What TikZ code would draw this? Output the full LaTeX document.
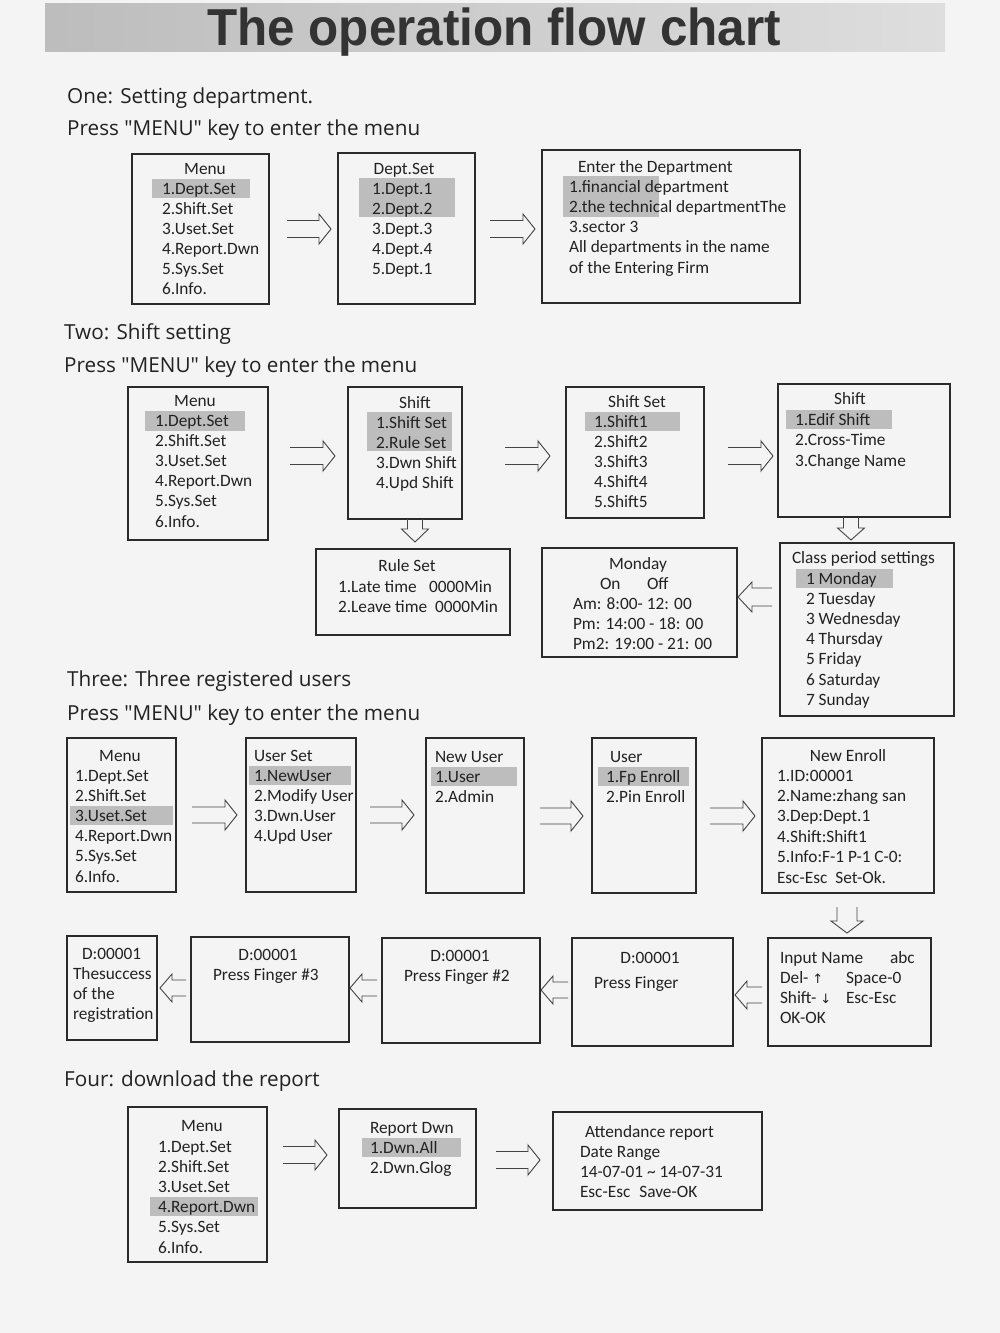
\documentclass[tikz,border=0pt]{standalone}
\usepackage{fontspec}
\setmainfont{Carlito}
\newfontfamily\headfont{Open Sans}
\newfontfamily\titlefont{Liberation Sans}
\newfontfamily\symfont{DejaVu Sans}
\usetikzlibrary{calc}
\definecolor{ink}{HTML}{222222}
\definecolor{hl}{HTML}{BDBDBD}
\definecolor{paper}{HTML}{F4F4F4}
\definecolor{frame}{HTML}{2A2A2A}
\definecolor{arrink}{HTML}{444444}
\definecolor{titleink}{HTML}{333333}
\tikzset{
  scr/.style={draw=frame, line width=1.3pt, inner sep=0pt, outer sep=0pt},
  txt/.style={anchor=base west, inner sep=0pt, outer sep=0pt, text=ink, font=\fontsize{17.3}{20}\selectfont},
  ctxt/.style={txt, anchor=base},
  head/.style={anchor=base west, inner sep=0pt, text=ink, font=\headfont\fontsize{20.7}{24}\selectfont},
  arrln/.style={draw=arrink, line width=0.9pt, line join=miter},
  hlbox/.style={fill=hl}
}
\newcommand\scr[5]{\node[scr, anchor=north west, minimum width={(#4-#2)*1pt}, minimum height={(#5-#3)*1pt}] (#1) at (#2,#3) {};}
\newcommand\lns[5]{\foreach \t [count=\i] in {#5} {\node[txt] (#1-\i) at (#2,{#3+(\i-1)*#4}) {\t};}}
\newcommand\sym[1]{{\symfont\fontsize{13}{15}\selectfont #1}}
% hollow double arrows: start, tip, half gap, head length, head half width
\newcommand\arrR[5]{\draw[arrln] ($(#1)+(0,-#3)$) -- ($(#2)+(-#4,-#3)$) -- ($(#2)+(-#4,-#5)$) -- (#2) -- ($(#2)+(-#4,#5)$) -- ($(#2)+(-#4,#3)$) -- ($(#1)+(0,#3)$);}
\newcommand\arrL[5]{\draw[arrln] ($(#1)+(0,-#3)$) -- ($(#2)+(#4,-#3)$) -- ($(#2)+(#4,-#5)$) -- (#2) -- ($(#2)+(#4,#5)$) -- ($(#2)+(#4,#3)$) -- ($(#1)+(0,#3)$);}
\newcommand\arrD[5]{\draw[arrln] ($(#1)+(-#3,0)$) -- ($(#2)+(-#3,-#4)$) -- ($(#2)+(-#5,-#4)$) -- (#2) -- ($(#2)+(#5,-#4)$) -- ($(#2)+(#3,-#4)$) -- ($(#1)+(#3,0)$);}
\begin{document}
\begin{tikzpicture}[x=1pt,y=-1pt]
\useasboundingbox (0,0) rectangle (1000,1333);
\fill[paper] (0,0) rectangle (1000,1333);
% title band
\fill[left color=black!26, right color=black!13] (45,3) rectangle (945,51);
\node[anchor=base, inner sep=0pt, text=titleink, font=\titlefont\bfseries\fontsize{52}{60}\selectfont] (title) at (494,45) {\scalebox{0.95}[1]{The operation flow chart}};

% ---------- One ----------
\node[head] (h1) at (67,103) {One: Setting department.};
\node[head] (h1b) at (67,135) {Press "MENU" key to enter the menu};
\fill[hlbox] (152,179) rectangle (250,198);
\fill[hlbox] (359,178) rectangle (455,217);
\fill[hlbox] (563,176) rectangle (659,217);
\scr{A1}{132}{154}{269}{304}
\scr{A2}{338}{153}{475}{304}
\scr{A3}{542}{150}{800}{303}
\node[ctxt] (A1t) at (205,174) {Menu};
\lns{A1l}{162}{194}{20}{1.Dept.Set,2.Shift.Set,3.Uset.Set,4.Report.Dwn,5.Sys.Set,6.Info.}
\node[ctxt] (A2t) at (404,174) {Dept.Set};
\lns{A2l}{372}{194}{20}{1.Dept.1,2.Dept.2,3.Dept.3,4.Dept.4,5.Dept.1}
\node[txt] (A3t) at (578,172) {Enter the Department};
\lns{A3l}{569}{192}{20.3}{1.financial department,2.the technical departmentThe,3.sector 3,All departments in the name,of the Entering Firm}
\path (A1.east |- 0,229) ++(18,0) coordinate (a12s) (A2.west |- 0,229) ++(-7,0) coordinate (a12t);
\arrR{a12s}{a12t}{8.5}{12}{15}
\path (A2.east |- 0,229) ++(15,0) coordinate (a23s) (A3.west |- 0,229) ++(-7,0) coordinate (a23t);
\arrR{a23s}{a23t}{8.5}{12}{15}

% ---------- Two ----------
\node[head] (h2) at (64,339) {Two: Shift setting};
\node[head] (h2b) at (64,372) {Press "MENU" key to enter the menu};
\fill[hlbox] (145,411) rectangle (245,431);
\fill[hlbox] (367,412) rectangle (452,451);
\fill[hlbox] (585,412) rectangle (680,431);
\fill[hlbox] (786,410) rectangle (892,429);
\fill[hlbox] (796,569) rectangle (893,588);
\scr{B1}{128}{387}{268}{540}
\scr{B2}{348}{387}{462}{519}
\scr{B3}{566}{387}{704}{518}
\scr{B4}{778}{384}{950}{517}
\scr{B5}{316}{549}{510}{635}
\scr{B6}{542}{548}{737}{657}
\scr{B7}{780}{543}{954}{716}
\node[ctxt] (B1t) at (195,406) {Menu};
\lns{B1l}{155}{426}{20.2}{1.Dept.Set,2.Shift.Set,3.Uset.Set,4.Report.Dwn,5.Sys.Set,6.Info.}
\node[ctxt] (B2t) at (415,408) {Shift};
\lns{B2l}{376}{428}{20}{1.Shift Set,2.Rule Set,3.Dwn Shift,4.Upd Shift}
\node[ctxt] (B3t) at (637,407) {Shift Set};
\lns{B3l}{594}{427}{20.2}{1.Shift1,2.Shift2,3.Shift3,4.Shift4,5.Shift5}
\node[ctxt] (B4t) at (850,404) {Shift};
\lns{B4l}{795}{425}{20.5}{1.Edif Shift,2.Cross-Time,3.Change Name}
\node[ctxt] (B5t) at (407,571) {Rule Set};
\lns{B5l}{338}{592}{20}{1.Late time,2.Leave time}
\node[txt] (B5a) at (429,592) {0000Min};
\node[txt] (B5b) at (435,612) {0000Min};
\node[ctxt] (B6t) at (638,569) {Monday};
\node[txt] (B6on) at (600,589) {On};
\node[txt] (B6off) at (647,589) {Off};
\lns{B6l}{573}{609}{20}{Am: 8:00- 12: 00,Pm: 14:00 - 18: 00,Pm2: 19:00 - 21: 00}
\node[txt] (B7t) at (792,563) {Class period settings};
\lns{B7l}{806}{584}{20.2}{1 Monday,2 Tuesday,3 Wednesday,4 Thursday,5 Friday,6 Saturday,7 Sunday}
\path (B1.east |- 0,456) ++(22,0) coordinate (b12s) (B2.west |- 0,456) ++(-13,0) coordinate (b12t);
\arrR{b12s}{b12t}{8.5}{12}{15}
\path (B2.east |- 0,456) ++(43,0) coordinate (b23s) (B3.west |- 0,456) ++(-16,0) coordinate (b23t);
\arrR{b23s}{b23t}{8.5}{12}{15}
\path (B3.east |- 0,456) ++(24,0) coordinate (b34s) (B4.west |- 0,456) ++(-5,0) coordinate (b34t);
\arrR{b34s}{b34t}{8.5}{12}{15}
\path (B2.south -| 415,0) coordinate (b25s) (B5.north -| 415,0) ++(0,-7) coordinate (b25t);
\arrD{b25s}{b25t}{7.5}{13}{13.5}
\path (B4.south -| 851,0) coordinate (b47s) (B7.north -| 851,0) ++(0,-3) coordinate (b47t);
\arrD{b47s}{b47t}{7.5}{12}{13.5}
\path (B7.west |- 0,597) ++(-8,0) coordinate (b76s) (B6.east |- 0,597) ++(1,0) coordinate (b76t);
\arrL{b76s}{b76t}{9}{14}{15}

% ---------- Three ----------
\node[head] (h3) at (67,686) {Three: Three registered users};
\node[head] (h3b) at (67,720) {Press "MENU" key to enter the menu};
\fill[hlbox] (70,806) rectangle (173,825);
\fill[hlbox] (249,766) rectangle (351,785);
\fill[hlbox] (431,767) rectangle (517,786);
\fill[hlbox] (598,767) rectangle (689,786);
\scr{C1}{67}{738}{176}{892}
\scr{C2}{246}{738}{356}{892}
\scr{C3}{426}{738}{524}{893}
\scr{C4}{592}{738}{696}{893}
\scr{C5}{762}{738}{934}{893}
\node[ctxt] (C1t) at (120,761) {Menu};
\lns{C1l}{75}{781}{20.2}{1.Dept.Set,2.Shift.Set,3.Uset.Set,4.Report.Dwn,5.Sys.Set,6.Info.}
\node[txt] (C2t) at (254,761) {User Set};
\lns{C2l}{254}{781}{20.3}{1.NewUser,2.Modify User,3.Dwn.User,4.Upd User}
\node[txt] (C3t) at (435,762) {New User};
\lns{C3l}{435}{782}{20.2}{1.User,2.Admin}
\node[txt] (C4t) at (610,762) {User};
\lns{C4l}{606}{782}{20.2}{1.Fp Enroll,2.Pin Enroll}
\node[ctxt] (C5t) at (848,761) {New Enroll};
\lns{C5l}{777}{781}{20.4}{1.ID:00001,2.Name:zhang san,3.Dep:Dept.1,4.Shift:Shift1,5.Info:F-1 P-1 C-0:,Esc-Esc\hspace{8pt}Set-Ok.}
\path (C1.east |- 0,815) ++(16,0) coordinate (c12s) (C2.west |- 0,815) ++(-9,0) coordinate (c12t);
\arrR{c12s}{c12t}{8}{12}{15}
\path (C2.east |- 0,815) ++(14,0) coordinate (c23s) (C3.west |- 0,815) ++(-12,0) coordinate (c23t);
\arrR{c23s}{c23t}{8}{12}{15}
\path (C3.east |- 0,816) ++(16,0) coordinate (c34s) (C4.west |- 0,816) ++(-9,0) coordinate (c34t);
\arrR{c34s}{c34t}{8}{12}{15}
\path (C4.east |- 0,816) ++(14,0) coordinate (c45s) (C5.west |- 0,816) ++(-7,0) coordinate (c45t);
\arrR{c45s}{c45t}{8}{12}{15}

\scr{D1}{67}{936}{157}{1040}
\scr{D2}{191}{937}{349}{1042}
\scr{D3}{382}{938}{540}{1043}
\scr{D4}{572}{938}{733}{1046}
\scr{D5}{768}{938}{931}{1046}
\lns{D5l}{780}{963}{20.3}{Input Name,Del- \sym{↑},Shift- \sym{↓},OK-OK}
\node[txt] (D5a) at (890,963) {abc};
\node[txt] (D5b) at (846,983) {Space-0};
\node[txt] (D5c) at (846,1003) {Esc-Esc};
\node[ctxt] (D4t) at (650,963) {D:00001};
\node[txt] (D4a) at (594,988) {Press Finger};
\node[ctxt] (D3t) at (460,961) {D:00001};
\node[txt] (D3a) at (404,981) {Press Finger \#2};
\node[ctxt] (D2t) at (268,960) {D:00001};
\node[txt] (D2a) at (213,980) {Press Finger \#3};
\node[txt] (D1t) at (82,959) {D:00001};
\lns{D1l}{73}{979}{20.3}{Thesuccess,of the,registration}
\path (C5.south -| 847,0) ++(0,14) coordinate (c5ds) (D5.north -| 847,0) ++(0,-5) coordinate (c5dt);
\arrD{c5ds}{c5dt}{10}{12}{16}
\path (D5.west |- 0,995) ++(-6,0) coordinate (d54s) (D4.east |- 0,995) ++(2,0) coordinate (d54t);
\arrL{d54s}{d54t}{8}{12}{14}
\path (D4.west |- 0,990) ++(-4,0) coordinate (d43s) (D3.east |- 0,990) ++(1,0) coordinate (d43t);
\arrL{d43s}{d43t}{8}{12}{14}
\path (D3.west |- 0,988) ++(-5,0) coordinate (d32s) (D2.east |- 0,988) ++(1,0) coordinate (d32t);
\arrL{d32s}{d32t}{8}{12}{14}
\path (D2.west |- 0,988) ++(-5,0) coordinate (d21s) (D1.east |- 0,988) ++(3,0) coordinate (d21t);
\arrL{d21s}{d21t}{8}{12}{14}

% ---------- Four ----------
\node[head] (h4) at (64,1086) {Four: download the report};
\fill[hlbox] (150,1197) rectangle (258,1216);
\fill[hlbox] (362,1138) rectangle (461,1157);
\scr{E1}{128}{1107}{267}{1262}
\scr{E2}{339}{1109}{476}{1208}
\scr{E3}{553}{1112}{762}{1210}
\node[ctxt] (E1t) at (202,1131) {Menu};
\lns{E1l}{158}{1152}{20.2}{1.Dept.Set,2.Shift.Set,3.Uset.Set,4.Report.Dwn,5.Sys.Set,6.Info.}
\node[txt] (E2t) at (370,1133) {Report Dwn};
\lns{E2l}{370}{1153}{20.5}{1.Dwn.All,2.Dwn.Glog}
\node[txt] (E3t) at (585,1137) {Attendance report};
\lns{E3l}{580}{1157}{20}{Date Range,14-07-01 \textasciitilde{} 14-07-31,Esc-Esc\hspace{9pt}Save-OK}
\path (E1.east |- 0,1155) ++(16,0) coordinate (e12s) (E2.west |- 0,1155) ++(-12,0) coordinate (e12t);
\arrR{e12s}{e12t}{8.5}{12}{15}
\path (E2.east |- 0,1160) ++(20,0) coordinate (e23s) (E3.west |- 0,1160) ++(-13,0) coordinate (e23t);
\arrR{e23s}{e23t}{8.5}{12}{15}
\end{tikzpicture}
\end{document}
